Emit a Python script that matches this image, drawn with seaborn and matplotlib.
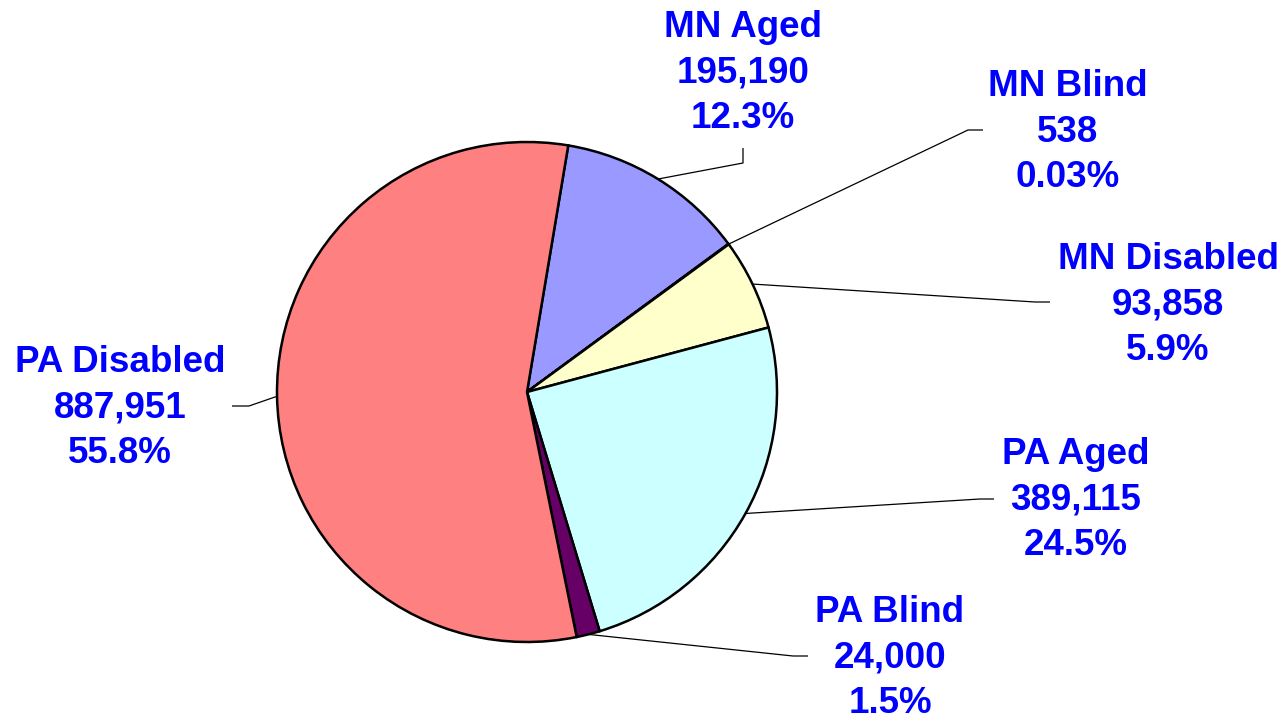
"""
Pie chart: caseload by program (MN / PA)
"""

import numpy as np
import matplotlib.pyplot as plt
import seaborn as sns

sns.set_style("white")
plt.rcParams['font.family'] = ['Liberation Sans', 'DejaVu Sans']

# Data
categorias = ['MN Aged', 'MN Blind', 'MN Disabled', 'PA Aged', 'PA Blind', 'PA Disabled']
valores = [195190, 538, 93858, 389115, 24000, 887951]
porcentajes = ['12.3%', '0.03%', '5.9%', '24.5%', '1.5%', '55.8%']
colores = ['#9999FF', '#993366', '#FFFFCC', '#CCFFFF', '#660066', '#FF8080']

# Layout (pixel coordinates, y measured from top)
W, H = 1283, 718
centro = (527, 392)
radio = 250
# label center, elbow point, leader end
etiquetas_pos = {
    'MN Aged':     ((743, 73),   (743, 163), (743, 148)),
    'MN Blind':    ((1068, 132), (968, 130), (983, 130)),
    'MN Disabled': ((1168, 305), (1035, 302), (1050, 302)),
    'PA Aged':     ((1076, 500), (980, 499), (994, 499)),
    'PA Blind':    ((890, 658),  (793, 656), (808, 656)),
    'PA Disabled': ((120, 408),  (249, 406), (232, 406)),
}


def main():
    fig = plt.figure(figsize=(W / 100, H / 100), dpi=100)
    ax = fig.add_axes([0, 0, 1, 1])

    wedges, _ = ax.pie(valores, colors=colores, startangle=80.5, counterclock=False,
                       center=(centro[0], H - centro[1]), radius=radio,
                       wedgeprops={'edgecolor': 'black', 'linewidth': 1.8},
                       frame=True)
    ax.set_xlim(0, W)
    ax.set_ylim(0, H)
    ax.set_aspect('equal')
    ax.axis('off')

    for w, cat, val, pct in zip(wedges, categorias, valores, porcentajes):
        texto_pos, codo, fin = etiquetas_pos[cat]
        ang = np.deg2rad((w.theta1 + w.theta2) / 2)
        px = centro[0] + radio * np.cos(ang)
        py = H - centro[1] + radio * np.sin(ang)
        ax.plot([px, codo[0], fin[0]], [py, H - codo[1], H - fin[1]],
                color='black', linewidth=0.9, solid_capstyle='butt')
        ax.text(texto_pos[0], H - texto_pos[1], f'{cat}\n{val:,}\n{pct}',
                ha='center', va='center', multialignment='center',
                fontsize=26.5, fontweight='bold', color='#0000FF', linespacing=1.38)

    fig.savefig('out.png', dpi=100, facecolor='white')
    plt.close(fig)


if __name__ == "__main__":
    main()
